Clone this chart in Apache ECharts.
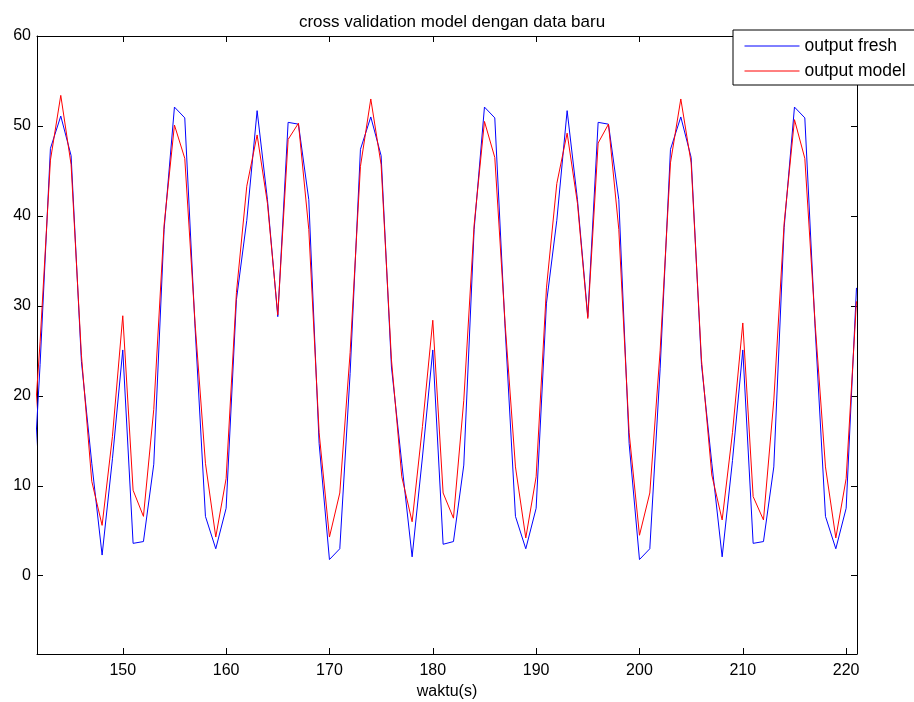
<!DOCTYPE html>
<html>
<head>
<meta charset="utf-8">
<script src="https://cdn.jsdelivr.net/npm/echarts@6/dist/echarts.min.js"></script>
<style>
  html, body { margin: 0; padding: 0; background: #fff; }
  #chart { width: 914px; height: 702px; }
</style>
</head>
<body>
<div id="chart"></div>
<script>
// time axis (s)
const waktu = [
  141, 142, 143, 144, 145, 146, 147, 148, 149, 150,
  151, 152, 153, 154, 155, 156, 157, 158, 159, 160,
  161, 162, 163, 164, 165, 166, 167, 168, 169, 170,
  171, 172, 173, 174, 175, 176, 177, 178, 179, 180,
  181, 182, 183, 184, 185, 186, 187, 188, 189, 190,
  191, 192, 193, 194, 195, 196, 197, 198, 199, 200,
  201, 202, 203, 204, 205, 206, 207, 208, 209, 210,
  211, 212, 213, 214, 215, 216, 217, 218, 219, 220,
  221
];

// blue line
const outputFresh = [
  3.0, 23.5, 47.5, 51.1, 46.7, 23.8, 12.5, 2.3, 13.0, 25.1,
  3.6, 3.8, 12.4, 38.5, 52.1, 50.9, 27.5, 6.6, 3.0, 7.5,
  30.7, 39.5, 51.7, 41.8, 28.8, 50.4, 50.2, 41.8, 14.7, 1.8,
  3.0, 22.5, 47.4, 51.0, 46.7, 23.2, 12.5, 2.1, 13.2, 25.1,
  3.5, 3.8, 12.3, 38.5, 52.1, 50.9, 27.5, 6.6, 3.0, 7.5,
  30.3, 39.5, 51.7, 41.8, 28.8, 50.4, 50.2, 41.8, 14.7, 1.8,
  3.0, 23.0, 47.4, 51.0, 46.5, 23.5, 12.5, 2.1, 12.8, 25.1,
  3.6, 3.8, 12.1, 38.7, 52.1, 50.9, 27.5, 6.6, 3.0, 7.5,
  32.0
];

// red line
const outputModel = [
  9.2, 26.0, 46.2, 53.4, 45.7, 24.5, 10.5, 5.6, 15.5, 28.9,
  9.5, 6.6, 18.5, 39.0, 50.1, 46.4, 28.0, 12.5, 4.3, 10.8,
  31.5, 43.3, 49.0, 41.4, 29.0, 48.5, 50.3, 38.5, 15.9, 4.3,
  9.2, 24.8, 45.5, 53.0, 45.7, 24.0, 11.0, 6.0, 16.6, 28.4,
  9.2, 6.4, 19.5, 39.0, 50.5, 46.5, 28.0, 12.1, 4.2, 11.0,
  32.0, 43.6, 49.2, 41.4, 28.6, 48.1, 50.2, 38.5, 15.9, 4.5,
  9.2, 25.0, 45.9, 53.0, 45.9, 24.0, 11.2, 6.2, 15.9, 28.1,
  8.8, 6.2, 19.5, 39.2, 50.7, 46.4, 28.0, 12.1, 4.2, 10.8,
  30.5
];

const xTicks = [150, 160, 170, 180, 190, 200, 210, 220];
const yTicks = [0, 10, 20, 30, 40, 50, 60];

const FONT = "Liberation Sans, Arial, sans-serif";
const chart = echarts.init(document.getElementById("chart"));

const tickStyle = (vals) => ({
  show: true, inside: true, length: 6, customValues: vals,
  lineStyle: { color: "#000", width: 1 },
});

const mkAxis = (pos, vals, withLabels, lo, hi, margin) => ({
  type: "value",
  position: pos,
  min: lo,
  max: hi,
  axisLine: { show: true, onZero: false, lineStyle: { color: "#000", width: 1 } },
  axisTick: tickStyle(vals),
  axisLabel: withLabels
    ? { show: true, customValues: vals, color: "#000", fontSize: 16, fontFamily: FONT, margin: margin }
    : { show: false },
  splitLine: { show: false },
});

chart.setOption({
  animation: false,
  backgroundColor: "#fff",
  title: {
    text: "cross validation model dengan data baru",
    left: 447,
    textAlign: "center",
    top: 9,
    textStyle: { color: "#000", fontSize: 17, fontWeight: "normal", fontFamily: FONT },
  },
  grid: { left: 37, right: 57, top: 36, bottom: 48, show: false, outerBoundsMode: "none", containLabel: false },
  legend: {
    orient: "vertical",
    left: 733,
    top: 30,
    padding: [7, 30, 5, 11],
    itemWidth: 55,
    itemHeight: 14,
    itemGap: 7,
    backgroundColor: "#fff",
    borderColor: "#000",
    borderWidth: 1,
    borderRadius: 0,
    itemStyle: { opacity: 0 },
    lineStyle: { width: 1 },
    textStyle: { color: "#000", fontSize: 17.5, fontFamily: FONT },
    data: ["output fresh", "output model"],
  },
  xAxis: [
    Object.assign(mkAxis("bottom", xTicks, true, 141.7, 221.05, 9), {
      name: "waktu(s)",
      nameLocation: "middle",
      nameGap: 29,
      nameTextStyle: { color: "#000", fontSize: 16, fontFamily: FONT },
    }),
    mkAxis("top", xTicks, false, 141.7, 221.05, 0),
  ],
  yAxis: [
    mkAxis("left", yTicks, true, -8.7, 60, 6),
    mkAxis("right", yTicks, false, -8.7, 60, 0),
  ],
  series: [
    {
      name: "output fresh",
      type: "line",
      symbol: "none",
      clip: true,
      lineStyle: { color: "#0000ff", width: 1 },
      itemStyle: { color: "#0000ff" },
      data: waktu.map((t, i) => [t, outputFresh[i]]),
    },
    {
      name: "output model",
      type: "line",
      symbol: "none",
      clip: true,
      lineStyle: { color: "#ff0000", width: 1 },
      itemStyle: { color: "#ff0000" },
      data: waktu.map((t, i) => [t, outputModel[i]]),
    },
  ],
});
</script>
</body>
</html>
